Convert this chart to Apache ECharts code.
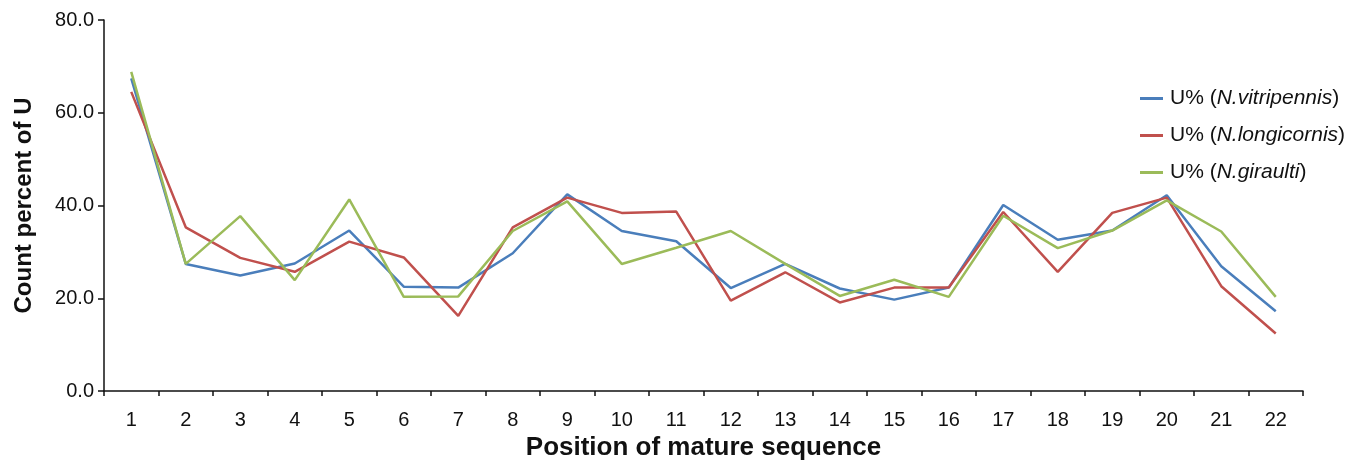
<!DOCTYPE html>
<html>
<head>
<meta charset="utf-8">
<script src="https://cdn.jsdelivr.net/npm/echarts@6/dist/echarts.min.js"></script>
<style>
html,body{margin:0;padding:0;background:#fff;}
#c{width:1363px;height:461px;}
</style>
</head>
<body>
<div id="c"></div>
<script>
const categories = ['1','2','3','4','5','6','7','8','9','10','11','12','13','14','15','16','17','18','19','20','21','22'];
const vitripennis = [67.4, 27.4, 24.9, 27.5, 34.6, 22.5, 22.3, 29.7, 42.4, 34.5, 32.3, 22.2, 27.4, 22.1, 19.7, 22.3, 40.1, 32.6, 34.6, 42.2, 26.9, 17.2];
const longicornis = [64.5, 35.3, 28.7, 25.7, 32.2, 28.8, 16.2, 35.3, 41.7, 38.4, 38.7, 19.5, 25.6, 19.1, 22.3, 22.3, 38.6, 25.7, 38.4, 41.7, 22.6, 12.4];
const giraulti = [68.8, 27.4, 37.7, 23.9, 41.3, 20.3, 20.4, 34.5, 40.9, 27.4, 30.9, 34.5, 27.4, 20.5, 24.0, 20.3, 37.8, 30.8, 34.6, 41.1, 34.4, 20.3];
const seriesNames = ['U% (N.vitripennis)', 'U% (N.longicornis)', 'U% (N.giraulti)'];
const yTicks = [0, 20, 40, 60, 80];

const FONT = '"Liberation Sans", Arial, sans-serif';
const chart = echarts.init(document.getElementById('c'), null, {renderer: 'canvas'});
function mk(name, data, color) {
  return {
    name: name, type: 'line', data: data, symbol: 'none', smooth: false,
    lineStyle: {color: color, width: 2.5}, itemStyle: {color: color}
  };
}
chart.setOption({
  animation: false,
  backgroundColor: '#fff',
  textStyle: {fontFamily: FONT},
  grid: {left: 104, right: 60, top: 20, bottom: 70, containLabel: false, outerBoundsMode: 'none'},
  legend: {
    orient: 'vertical', left: 1135, top: 83,
    icon: 'rect', itemWidth: 23, itemHeight: 3, itemGap: 16,
    data: seriesNames,
    formatter: function (n) {
      const m = n.match(/^(U% \()(.*)(\))$/);
      return '{n|' + m[1] + '}{i|' + m[2] + '}{n|' + m[3] + '}';
    },
    textStyle: {
      fontFamily: FONT, fontSize: 21, color: '#111', padding: [0, 0, 0, 2],
      rich: {
        n: {fontFamily: FONT, fontSize: 21, color: '#111'},
        i: {fontFamily: FONT, fontSize: 21, color: '#111', fontStyle: 'italic'}
      }
    }
  },
  xAxis: {
    type: 'category', data: categories, boundaryGap: true,
    name: 'Position of mature sequence', nameLocation: 'middle', nameGap: 36,
    nameTextStyle: {fontFamily: FONT, fontSize: 26, fontWeight: 'bold', color: '#111'},
    axisLine: {lineStyle: {color: '#111', width: 1.5}},
    axisTick: {show: true, length: 5, inside: false, alignWithLabel: false, lineStyle: {color: '#111', width: 1.5}},
    axisLabel: {fontFamily: FONT, fontSize: 20, color: '#111', margin: 19},
    splitLine: {show: false}
  },
  yAxis: {
    type: 'value', min: yTicks[0], max: yTicks[yTicks.length - 1], interval: 20,
    name: 'Count percent of U', nameLocation: 'middle', nameGap: 68, nameRotate: 90,
    nameTextStyle: {fontFamily: FONT, fontSize: 24, fontWeight: 'bold', color: '#111'},
    axisLine: {show: true, lineStyle: {color: '#111', width: 1.5}},
    axisTick: {show: true, length: 6, inside: false, lineStyle: {color: '#111', width: 1.5}},
    axisLabel: {fontFamily: FONT, fontSize: 20, color: '#111', margin: 10,
      formatter: function (v) { return v.toFixed(1); }},
    splitLine: {show: false}
  },
  series: [
    mk(seriesNames[0], vitripennis, '#4a7ebb'),
    mk(seriesNames[1], longicornis, '#c0504d'),
    mk(seriesNames[2], giraulti, '#9bbb59')
  ]
});
</script>
</body>
</html>
